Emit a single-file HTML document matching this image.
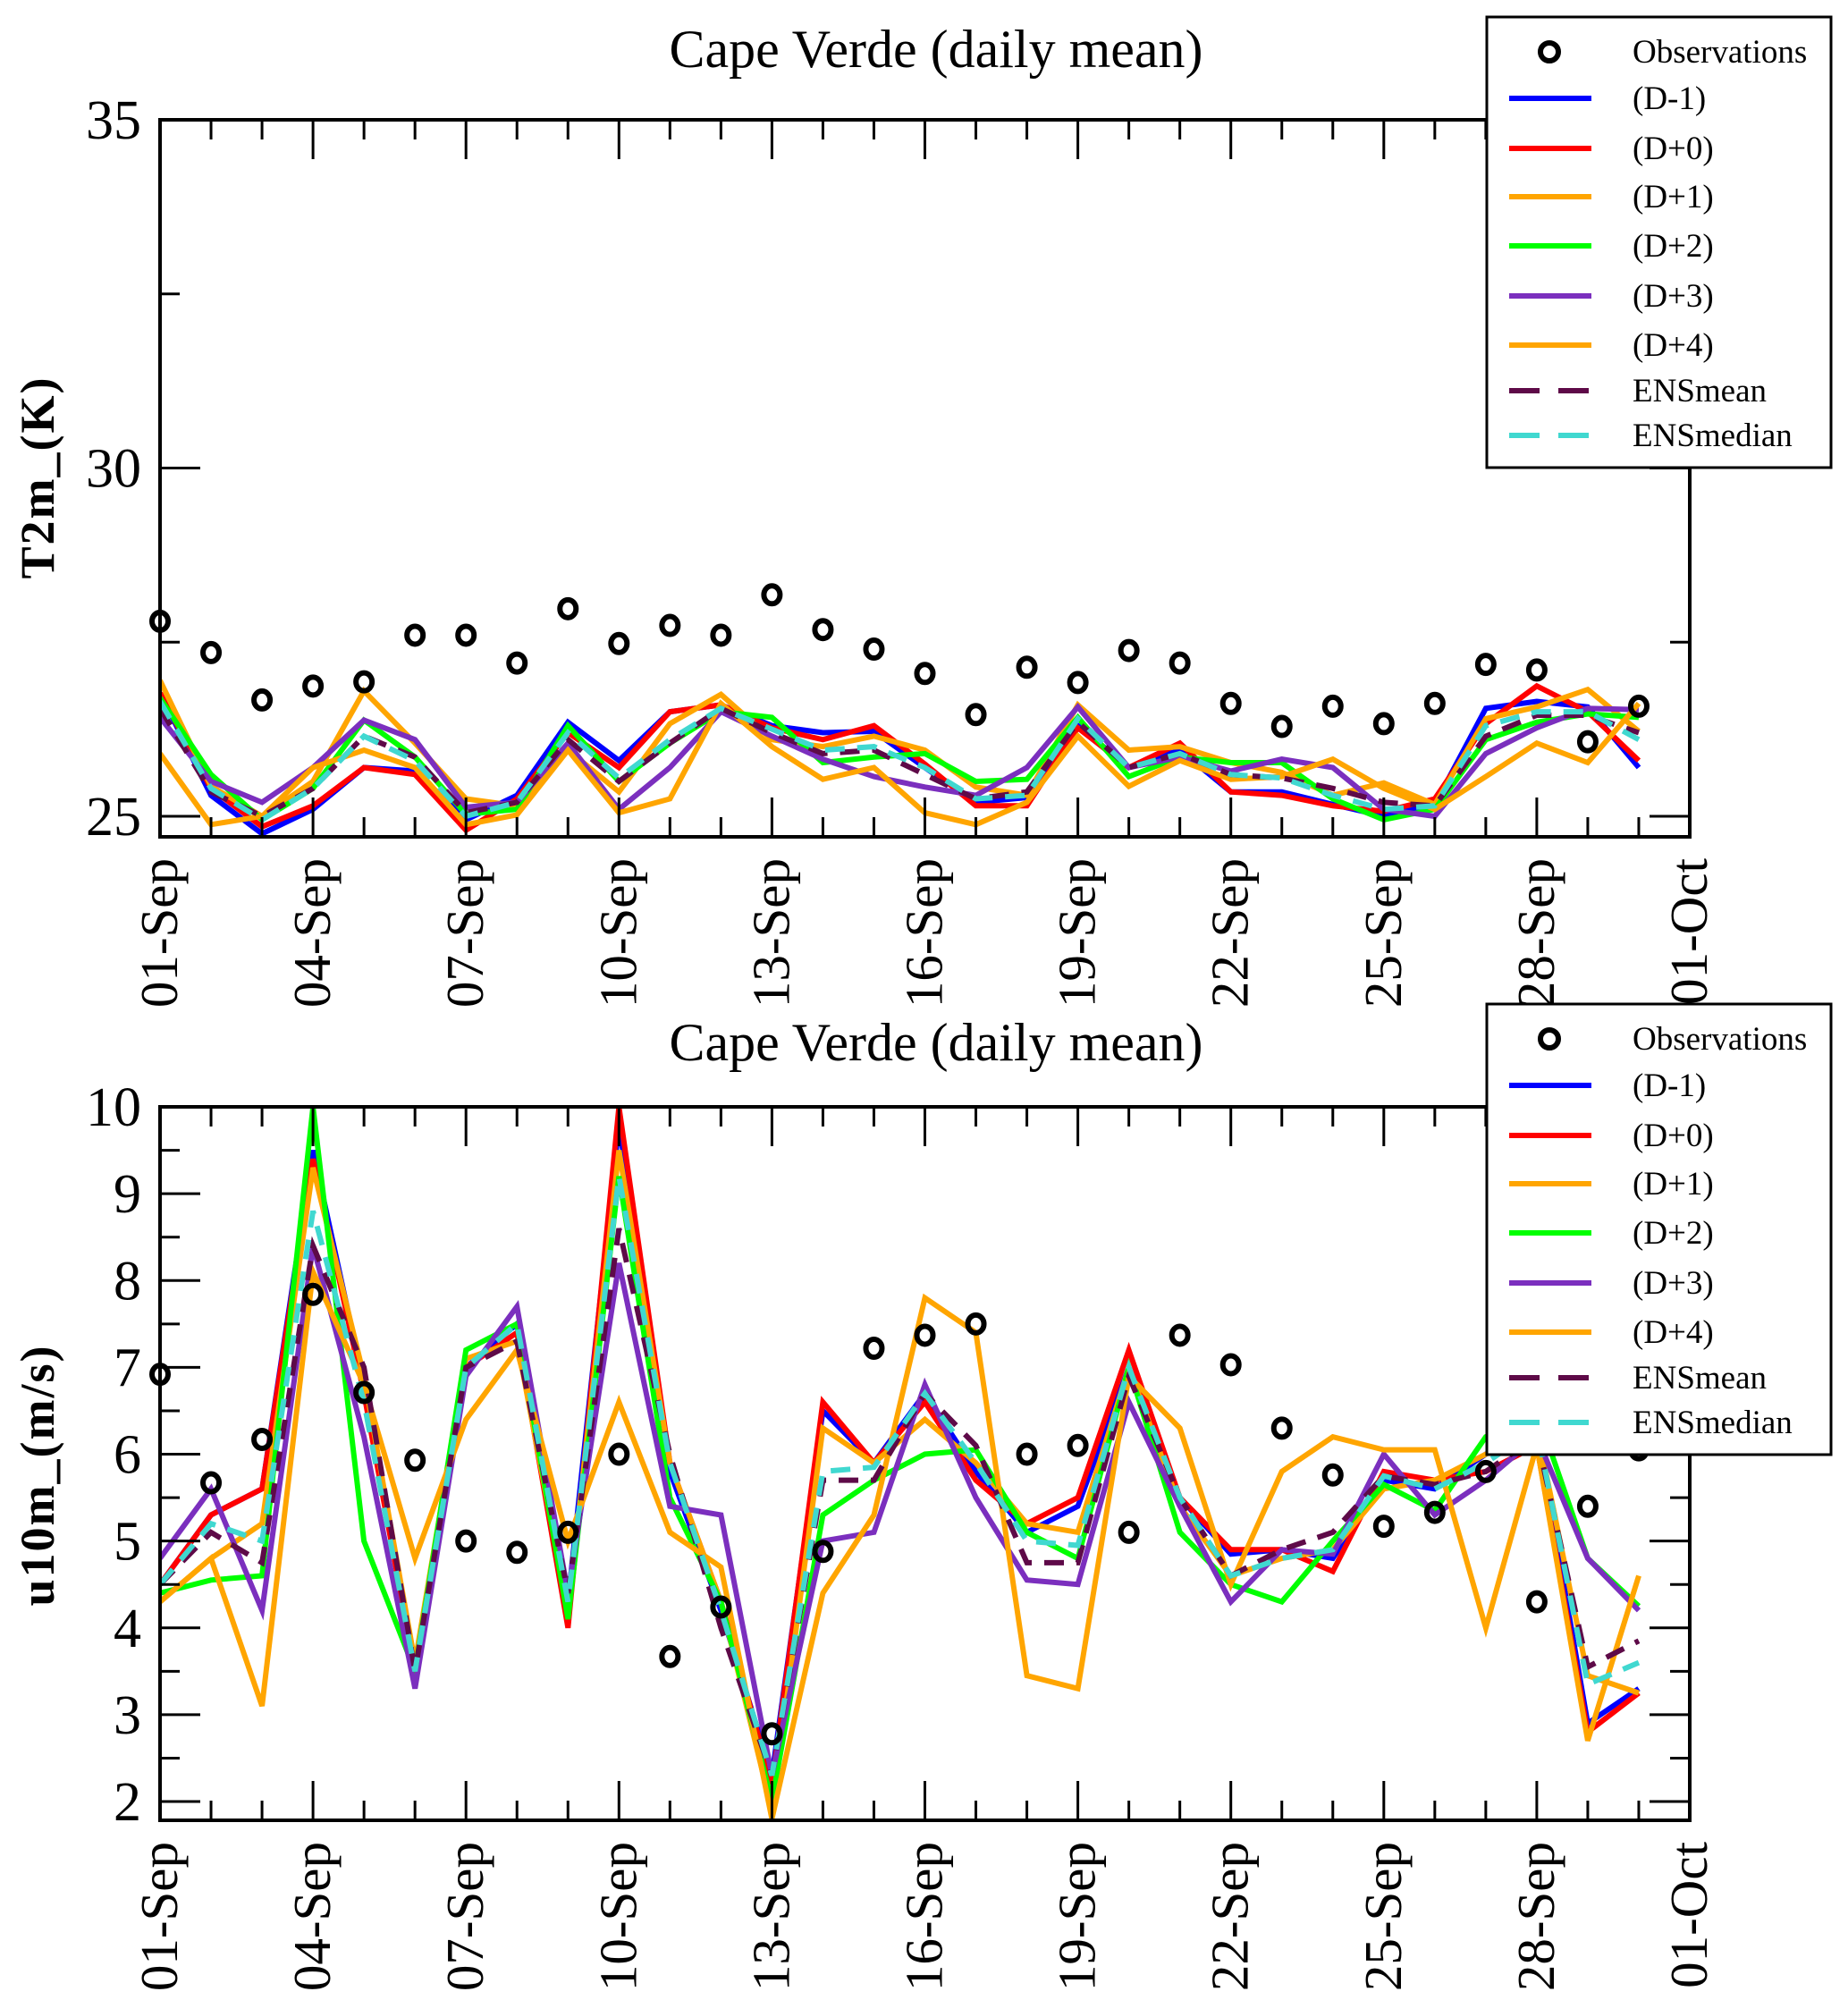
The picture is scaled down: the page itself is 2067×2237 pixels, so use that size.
<!DOCTYPE html>
<html><head><meta charset="utf-8"><style>
html,body{margin:0;padding:0;background:#fff;}
svg{display:block;font-family:"Liberation Serif",serif;}
</style></head><body>
<svg id="chart" width="2067" height="2237" viewBox="0 0 2067 2237" xmlns="http://www.w3.org/2000/svg"></svg>
<script>
// ---- data: x tick labels ----
const xTickLabels = ["01-Sep","04-Sep","07-Sep","10-Sep","13-Sep","16-Sep","19-Sep","22-Sep","25-Sep","28-Sep","01-Oct"];
const seriesNames = ["(D-1)","(D+0)","(D+1)","(D+2)","(D+3)","(D+4)","ENSmean","ENSmedian"];
// ---- top chart (T2m) ----
const t2mYTicks = [25,30,35];
const t2mObs = [27.8,27.35,26.67,26.87,26.93,27.6,27.6,27.2,27.98,27.48,27.74,27.6,28.18,27.68,27.4,27.05,26.46,27.14,26.92,27.38,27.2,26.62,26.29,26.58,26.33,26.62,27.18,27.1,26.07,26.58];
const t2mDm1 = [26.77,25.3,24.75,25.1,25.7,25.65,24.95,25.3,26.35,25.8,26.5,26.6,26.3,26.2,26.22,25.7,25.2,25.27,26.3,25.7,25.95,25.35,25.35,25.17,25.0,25.17,26.55,26.65,26.57,25.7];
const t2mD0 = [26.77,25.4,24.85,25.15,25.7,25.6,24.8,25.25,26.2,25.7,26.5,26.6,26.27,26.1,26.3,25.75,25.15,25.15,26.27,25.7,26.05,25.35,25.3,25.15,25.07,25.25,26.33,26.87,26.5,25.8];
const t2mD1 = [26.95,25.43,25.0,25.5,26.8,26.05,25.25,25.15,25.95,25.35,26.33,26.75,26.1,26.0,26.15,25.95,25.42,25.3,26.6,25.95,26.0,25.77,25.63,25.3,25.48,25.17,26.4,26.57,26.82,26.22];
const t2mD2 = [26.7,25.6,24.95,25.4,26.38,25.85,25.03,25.1,26.3,25.5,26.05,26.5,26.42,25.77,25.85,25.9,25.5,25.53,26.42,25.57,25.85,25.77,25.77,25.25,24.95,25.1,26.1,26.35,26.47,26.42];
const t2mD3 = [26.42,25.5,25.2,25.7,26.38,26.1,25.13,25.2,26.05,25.1,25.7,26.5,26.15,25.82,25.57,25.42,25.3,25.7,26.57,25.7,25.85,25.65,25.82,25.7,25.1,25.0,25.9,26.27,26.55,26.53];
const t2mD4 = [25.9,24.88,25.0,25.7,25.95,25.7,24.88,25.02,25.95,25.05,25.25,26.62,26.0,25.53,25.7,25.05,24.88,25.2,26.15,25.43,25.8,25.53,25.57,25.82,25.4,25.1,25.57,26.05,25.77,26.62];
const t2mMean = [26.55,25.35,25.0,25.4,26.15,25.85,25.05,25.2,26.1,25.5,26.05,26.55,26.2,25.9,25.95,25.6,25.25,25.35,26.35,25.7,25.9,25.6,25.55,25.4,25.2,25.15,26.15,26.45,26.45,26.2];
const t2mMedian = [26.65,25.4,24.95,25.4,26.15,25.8,25.0,25.2,26.2,25.55,26.1,26.55,26.25,25.95,26.0,25.7,25.25,25.3,26.4,25.7,25.9,25.6,25.55,25.3,25.1,25.15,26.3,26.5,26.5,26.1];
// ---- bottom chart (u10m) ----
const u10YTicks = [2,3,4,5,6,7,8,9,10];
const u10Obs = [6.92,5.67,6.17,7.84,6.71,5.93,5.0,4.87,5.1,6.0,3.67,4.24,2.78,4.88,7.22,7.37,7.5,6.0,6.1,5.1,7.37,7.03,6.3,5.76,5.17,5.33,5.8,4.3,5.4,6.05];
const u10Dm1 = [4.5,5.3,5.6,9.5,6.8,3.5,7.0,7.5,4.3,9.8,5.8,4.2,2.3,6.5,5.9,6.7,5.8,5.1,5.4,7.0,5.5,4.85,4.9,4.8,5.7,5.6,6.0,6.3,2.9,3.3];
const u10D0 = [4.5,5.3,5.6,9.4,6.7,3.5,7.0,7.4,4.0,10.0,5.9,4.3,2.2,6.6,5.9,6.6,5.7,5.2,5.5,7.2,5.5,4.9,4.9,4.65,5.8,5.7,5.8,6.1,2.8,3.25];
const u10D1 = [4.3,4.8,5.2,9.3,6.9,3.6,7.1,7.3,4.2,9.5,5.9,4.3,1.9,6.3,5.9,6.4,5.9,5.2,5.1,7.0,5.4,4.6,4.8,4.9,5.6,5.7,6.0,6.3,3.45,3.25];
const u10D2 = [4.4,4.55,4.6,10.0,5.0,3.5,7.2,7.5,4.1,9.2,5.5,4.3,2.0,5.3,5.7,6.0,6.05,5.1,4.8,7.0,5.1,4.5,4.3,5.0,5.65,5.35,6.2,6.5,4.8,4.25];
const u10D3 = [4.8,5.6,4.2,8.4,6.2,3.3,6.9,7.7,4.4,8.2,5.4,5.3,2.3,5.0,5.1,6.8,5.5,4.55,4.5,6.6,5.4,4.3,4.9,4.85,6.0,5.3,5.7,6.2,4.8,4.2];
const u10D4 = [4.3,4.8,3.1,8.1,6.8,4.8,6.4,7.2,5.0,6.6,5.1,4.7,1.8,4.4,5.3,7.8,7.4,3.45,3.3,6.9,6.3,4.5,5.8,6.2,6.05,6.05,4.0,6.1,2.7,4.6];
const u10Mean = [4.5,5.1,4.75,8.4,7.0,3.5,7.0,7.3,4.4,8.6,6.0,4.0,2.3,5.7,5.7,6.7,6.1,4.75,4.75,6.9,5.5,4.6,4.9,5.1,5.75,5.65,5.8,6.2,3.55,3.85];
const u10Median = [4.5,5.2,5.0,8.8,6.6,3.5,7.0,7.5,4.3,9.2,5.9,4.2,2.3,5.8,5.85,6.7,5.9,5.0,4.95,7.0,5.5,4.6,4.8,4.9,5.75,5.6,5.9,6.3,3.35,3.6];

const NS="http://www.w3.org/2000/svg";
const svg=document.getElementById('chart');
function mk(tag,attrs,parent){const e=document.createElementNS(NS,tag);for(const k in attrs)e.setAttribute(k,attrs[k]);(parent||svg).appendChild(e);return e;}
const colors=["#0000ff","#ff0000","#ffa500","#00ff00","#7b2fbe","#ffa500","#5e0a48","#40d8d0"];
const dashes=[null,null,null,null,null,null,"22 14","22 14"];

function drawPlot(cfg){
  const L=179,R=1890,T=cfg.top,B=cfg.bottom;
  const xS=d=>L+(d)*(R-L)/30;
  const yS=v=>cfg.yPix0+(v-cfg.yV0)*(cfg.yPix1-cfg.yPix0)/(cfg.yV1-cfg.yV0);
  const g=mk('g',{});
  
  
  const cid='clip-'+cfg.name;
  const cp=mk('clipPath',{id:cid},g);mk('rect',{x:L,y:T,width:R-L,height:B-T},cp);
  const title=mk('text',{x:1047,y:cfg.titleY,'font-size':60,'text-anchor':'middle'},g);
  title.textContent="Cape Verde (daily mean)";
  
  
  const sg=mk('g',{'clip-path':'url(#'+cid+')'},g);
  cfg.series.forEach((arr,i)=>{
    const pts=arr.map((v,d)=>xS(d).toFixed(1)+','+yS(v).toFixed(1)).join(' ');
    const a={points:pts,fill:'none',stroke:colors[i],'stroke-width':6,'stroke-linejoin':'miter'};
    if(dashes[i])a['stroke-dasharray']=dashes[i];
    const pl=mk('polyline',a,sg);
    
    
  });
  cfg.obs.forEach((v,d)=>{
    const c=mk('ellipse',{cx:xS(d),cy:yS(v),rx:9,ry:10,fill:'none',stroke:'#000','stroke-width':6},g);
    
    
  });
  const fr=mk('rect',{x:L,y:T,width:R-L,height:B-T,fill:'none',stroke:'#000','stroke-width':4},g);
  
  
  for(let d=0;d<=30;d++){
    const x=xS(d),len=(d%3===0)?44:22;
    mk('line',{x1:x,y1:B,x2:x,y2:B-len,stroke:'#000','stroke-width':3},g);
    mk('line',{x1:x,y1:T,x2:x,y2:T+len,stroke:'#000','stroke-width':3},g);
  }
  xTickLabels.forEach((lab,i)=>{
    const x=xS(i*3)+19,y=B+24;
    const t=mk('text',{x:x,y:y,'font-size':59,'text-anchor':'end',transform:'rotate(-90 '+x+' '+y+')'},g);
    t.textContent=lab;
    
    
  });
  for(let v=cfg.yMinorStart;v<=cfg.yV1+1e-6;v+=cfg.yMinor){
    const y=yS(v);const major=cfg.yTicks.some(t=>Math.abs(t-v)<1e-6);const len=major?45:22;
    mk('line',{x1:L,y1:y,x2:L+len,y2:y,stroke:'#000','stroke-width':3},g);
    mk('line',{x1:R,y1:y,x2:R-len,y2:y,stroke:'#000','stroke-width':3},g);
  }
  cfg.yTicks.forEach(v=>{
    const t=mk('text',{x:158,y:yS(v)+21,'font-size':62,'text-anchor':'end'},g);
    t.textContent=String(v);
    
    
  });
  const yt=mk('text',{x:60,y:cfg.yTitleY,'font-size':54,'font-weight':'bold','text-anchor':'middle','letter-spacing':'2',transform:'rotate(-90 60 '+cfg.yTitleY+')'},g);
  yt.textContent=cfg.yTitle;
  
  
  const lg=mk('g',{},g);
  
  
  mk('rect',{x:1663,y:cfg.legTop,width:385,height:504,fill:'#fff',stroke:'#000','stroke-width':3},lg);
  const rows=[39,91,147,201,256,312,367,418,468];
  const om=mk('ellipse',{cx:1733,cy:cfg.legTop+rows[0],rx:10,ry:10,fill:'none',stroke:'#000','stroke-width':6},lg);
  
  
  const ot=mk('text',{x:1826,y:cfg.legTop+rows[0]+12,'font-size':37},lg);ot.textContent="Observations";
  
  
  seriesNames.forEach((n,i)=>{
    const y=cfg.legTop+rows[i+1];
    const a={x1:1688,y1:y,x2:1780,y2:y,stroke:colors[i],'stroke-width':6};
    if(dashes[i])a['stroke-dasharray']='34 21';
    const ln=mk('line',a,lg);
    
    
    const t=mk('text',{x:1826,y:y+12,'font-size':37},lg);t.textContent=n;
    
    
  });
}
drawPlot({name:'t2m-plot',top:134,bottom:936,yV0:25,yV1:35,yPix0:913,yPix1:134,yTicks:t2mYTicks,yMinor:2.5,yMinorStart:25,
  titleY:75,yTitle:"T2m_(K)",yTitleY:534,legTop:19,obs:t2mObs,
  series:[t2mDm1,t2mD0,t2mD1,t2mD2,t2mD3,t2mD4,t2mMean,t2mMedian]});
drawPlot({name:'u10m-plot',top:1238,bottom:2036,yV0:2,yV1:10,yPix0:2015,yPix1:1238,yTicks:u10YTicks,yMinor:0.5,yMinorStart:2,
  titleY:1186,yTitle:"u10m_(m/s)",yTitleY:1650,legTop:1123,obs:u10Obs,
  series:[u10Dm1,u10D0,u10D1,u10D2,u10D3,u10D4,u10Mean,u10Median]});
</script>
</body></html>
